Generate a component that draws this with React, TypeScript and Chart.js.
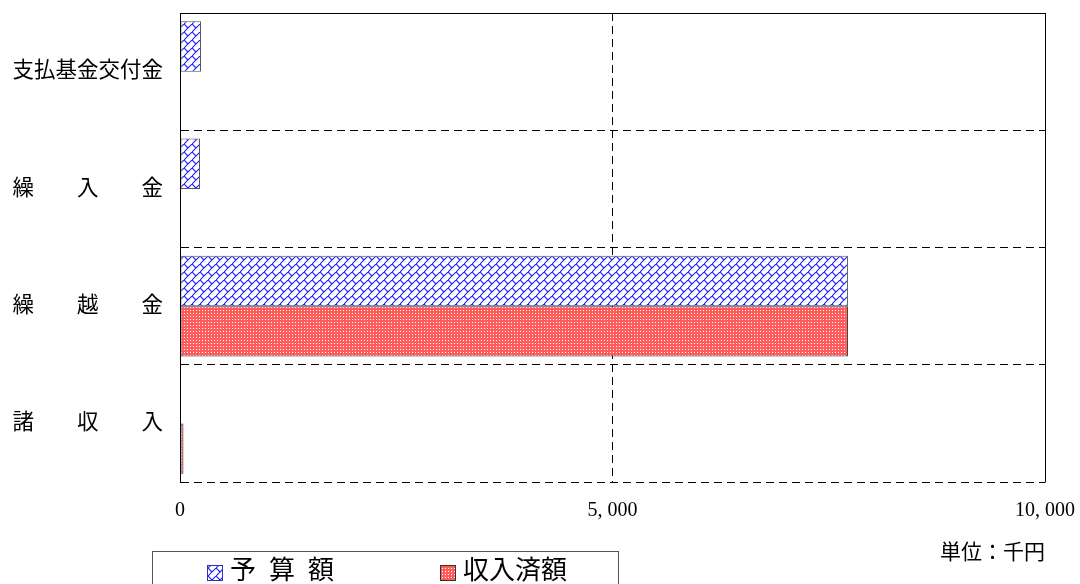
import React, { useEffect, useRef } from 'react';
import { Chart, registerables } from 'chart.js';

Chart.register(...registerables);

const categories = ['支払基金交付金', '繰　　入　　金', '繰　　越　　金', '諸　　収　　入'];
const budgetValues = [243, 231, 7722, 0];
const revenueValues = [0, 0, 7722, 40];
const seriesLabels = ['予 算 額', '収入済額'];
const xTickValues = [0, 5000, 10000];
const xTickLabels = ['0', '5, 000', '10, 000'];
const unitLabel = '単位：千円';

const FONT = "'Liberation Serif', 'Noto Sans CJK JP', serif";

function makeHatch(): CanvasPattern | string {
  const c = document.createElement('canvas');
  c.width = 8;
  c.height = 8;
  const g = c.getContext('2d');
  if (!g) return '#ffffff';
  g.fillStyle = '#ffffff';
  g.fillRect(0, 0, 8, 8);
  g.strokeStyle = '#1f1fff';
  g.lineWidth = 1.1;
  g.beginPath();
  g.moveTo(-1, 9);
  g.lineTo(9, -1);
  g.moveTo(-0.5, -0.5);
  g.lineTo(4, 4);
  g.stroke();
  return g.createPattern(c, 'repeat') || '#ffffff';
}

function makeDots(): CanvasPattern | string {
  const c = document.createElement('canvas');
  c.width = 3;
  c.height = 3;
  const g = c.getContext('2d');
  if (!g) return '#f06060';
  g.fillStyle = '#ff5c5c';
  g.fillRect(0, 0, 3, 3);
  g.fillStyle = '#ffffff';
  g.fillRect(1, 1, 1, 1);
  return g.createPattern(c, 'repeat') || '#f06060';
}

export default function App() {
  const ref = useRef<HTMLCanvasElement | null>(null);

  useEffect(() => {
    if (!ref.current) return;
    const hatch = makeHatch();
    const dots = makeDots();

    const framePlugin = {
      id: 'frameLegend',
      afterDraw(chart: any) {
        const { ctx, chartArea } = chart;
        const { left, top, right, bottom } = chartArea;
        ctx.save();
        ctx.strokeStyle = '#000';
        ctx.lineWidth = 1;
        ctx.setLineDash([]);
        ctx.beginPath();
        ctx.moveTo(Math.round(left) + 0.5, Math.round(bottom) + 0.5);
        ctx.lineTo(Math.round(left) + 0.5, Math.round(top) + 0.5);
        ctx.lineTo(Math.round(right) + 0.5, Math.round(top) + 0.5);
        ctx.lineTo(Math.round(right) + 0.5, Math.round(bottom) + 0.5);
        ctx.stroke();

        ctx.fillStyle = '#000';
        ctx.font = `21px ${FONT}`;
        ctx.textAlign = 'right';
        ctx.textBaseline = 'middle';
        ctx.fillText(unitLabel, right, 553);

        ctx.strokeStyle = '#555';
        ctx.strokeRect(152.5, 551.5, 466, 60);
        const fills = [hatch, dots];
        const swX = [207, 440];
        ctx.font = `26px ${FONT}`;
        ctx.textAlign = 'left';
        for (let i = 0; i < seriesLabels.length; i++) {
          ctx.fillStyle = fills[i] as any;
          ctx.fillRect(swX[i], 565, 15, 15);
          ctx.strokeStyle = i === 0 ? '#3333aa' : '#333';
          ctx.strokeRect(swX[i] + 0.5, 565.5, 15, 15);
          ctx.fillStyle = '#000';
          ctx.fillText(seriesLabels[i].replace(/ /g, '\u2002'), swX[i] + 23, 572);
        }
        ctx.restore();
      },
    };

    const chart = new Chart(ref.current, {
      type: 'bar',
      data: {
        labels: categories,
        datasets: [
          {
            label: seriesLabels[0],
            data: budgetValues,
            backgroundColor: hatch as any,
            borderColor: '#555555',
            borderWidth: 1,
            borderSkipped: false,
            categoryPercentage: 0.86,
            barPercentage: 1,
          },
          {
            label: seriesLabels[1],
            data: revenueValues,
            backgroundColor: dots as any,
            borderColor: '#333333',
            borderWidth: 1,
            borderSkipped: false,
            categoryPercentage: 0.86,
            barPercentage: 1,
          },
        ],
      },
      options: {
        indexAxis: 'y',
        responsive: false,
        animation: false,
        layout: { padding: { top: 13, right: 35, left: 0, bottom: 0 } },
        plugins: {
          legend: { display: false },
          tooltip: { enabled: false },
          title: { display: false },
        },
        scales: {
          x: {
            min: 0,
            max: 10000,
            afterBuildTicks: (s: any) => {
              s.ticks = xTickValues.map((v) => ({ value: v }));
            },
            afterFit: (s: any) => {
              s.height = 102;
              s.paddingLeft = 0;
              s.paddingRight = 0;
            },
            ticks: {
              autoSkip: false,
              maxRotation: 0,
              padding: 17,
              color: '#000',
              font: { family: FONT, size: 20 },
              callback: (v: any) => {
                const i = xTickValues.indexOf(Number(v));
                return i >= 0 ? xTickLabels[i] : '';
              },
            },
            grid: { color: '#000', lineWidth: 1, drawTicks: false },
            border: { display: false, dash: [8, 5] },
          },
          y: {
            afterFit: (s: any) => {
              s.width = 180;
              s.paddingTop = 0;
              s.paddingBottom = 0;
            },
            ticks: {
              padding: 17,
              color: '#000',
              font: { family: FONT, size: 21.5 },
            },
            grid: { color: '#000', lineWidth: 1, drawTicks: false, offset: true },
            border: { display: true, color: '#000', dash: [8, 5] },
          },
        },
      },
      plugins: [framePlugin],
    } as any);

    return () => chart.destroy();
  }, []);

  return (
    <div style={{ position: 'absolute', left: 0, top: 0, width: 1080, height: 584, background: '#fff' }}>
      <canvas ref={ref} width={1080} height={584} style={{ display: 'block', width: 1080, height: 584 }} />
    </div>
  );
}
